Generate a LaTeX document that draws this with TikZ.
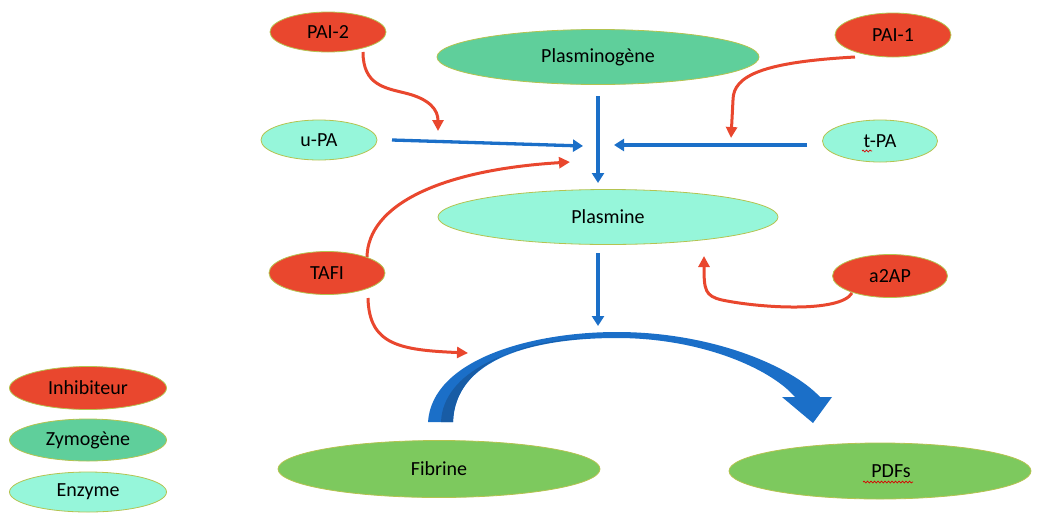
\documentclass[tikz,border=0pt]{standalone}
\usepackage{fontspec}
\setmainfont{Carlito}
\usetikzlibrary{shapes.geometric,arrows.meta,decorations.pathmorphing}
\definecolor{inhib}{RGB}{233,71,46}
\definecolor{zymo}{RGB}{95,207,155}
\definecolor{enz}{RGB}{150,246,218}
\definecolor{fib}{RGB}{125,201,94}
\definecolor{rim}{RGB}{180,195,80}
\definecolor{flow}{RGB}{27,111,200}
\definecolor{flowdark}{RGB}{24,92,165}
\tikzset{
  oval/.style={ellipse, draw=rim, line width=0.8pt, inner sep=0pt,
    font=\fontsize{20}{24}\selectfont, text=black},
  inhibnode/.style={oval, fill=inhib},
  zymonode/.style={oval, fill=zymo},
  enznode/.style={oval, fill=enz},
  fibnode/.style={oval, fill=fib},
  redarrow/.style={draw=inhib, line width=3pt, -{Triangle[length=11pt,width=11pt]}},
  bluearrow/.style={draw=flow, line width=3.3pt, -{Triangle[length=10pt,width=12pt]}},
  spellmark/.style={draw=red!85!black, line width=0.7pt, decorate,
    decoration={snake, amplitude=0.9pt, segment length=3.5pt}},
}
\begin{document}
\begin{tikzpicture}[x=1pt,y=-1pt]
\useasboundingbox (0,0) rectangle (1043,512);
% nodes
\node[inhibnode, minimum width=116, minimum height=40] (pai2) at (328,32) {PAI-2};
\node[zymonode, minimum width=322, minimum height=55] (plg) at (598,57) {Plasminogène};
\node[inhibnode, minimum width=116, minimum height=44] (pai1) at (893,35) {PAI-1};
\node[enznode, minimum width=116, minimum height=40] (upa) at (319,140) {u-PA};
\node[enznode, minimum width=115, minimum height=42] (tpa) at (880,141) {t-PA};
\node[enznode, minimum width=340, minimum height=55] (pls) at (608,217) {Plasmine};
\node[inhibnode, minimum width=116, minimum height=43] (tafi) at (327,273) {TAFI};
\node[inhibnode, minimum width=115, minimum height=43] (a2ap) at (890,276) {a2AP};
\node[fibnode, minimum width=322, minimum height=57] (fibr) at (439,469) {Fibrine};
\node[fibnode, minimum width=302, minimum height=56] (pdf) at (880,471) {\hspace*{22pt}PDFs};
% legend
\node[inhibnode, minimum width=157, minimum height=43] (lgi) at (88,388) {Inhibiteur};
\node[zymonode, minimum width=157, minimum height=42] (lgz) at (88,440) {Zymogène};
\node[enznode, minimum width=157, minimum height=40] (lge) at (88,492) {Enzyme};
% spell-check marks
\coordinate (tpam1) at (862,151);
\coordinate (tpam2) at (872,151);
\coordinate (pdfm1) at (863,482);
\coordinate (pdfm2) at (913,482);
\draw[spellmark] (tpam1) -- (tpam2);
\draw[spellmark] (pdfm1) -- (pdfm2);
% free ends
\coordinate (plgout) at (598,96);
\coordinate (conv) at (598,183);
\coordinate (plsout) at (598,253);
\coordinate (arctop) at (598,326);
\coordinate (upaout) at (392,140);
\coordinate (upain) at (583,146);
\coordinate (tpaout) at (807,145);
\coordinate (tpain) at (614,145);
\coordinate (pai2out) at (363,52);
\coordinate (pai2in) at (438,131);
\coordinate (pai1out) at (855,57);
\coordinate (pai1in) at (731,138);
\coordinate (tafiup) at (367,257);
\coordinate (tafiupin) at (570,162);
\coordinate (tafidn) at (368,298);
\coordinate (tafidnin) at (468,353);
\coordinate (a2apout) at (852,293);
\coordinate (a2apin) at (704,256);
% blue arrows
\draw[bluearrow] (plgout) -- (conv);
\draw[bluearrow] (plsout) -- (arctop);
\draw[bluearrow] (upaout) -- (upain);
\draw[bluearrow] (tpaout) -- (tpain);
% red arrows
\draw[redarrow] (pai2out) .. controls (363,85) and (385,88) .. (405,93)
  .. controls (430,99) and (438,110) .. (pai2in);
\draw[redarrow] (pai1out) .. controls (765,62) and (733,75) .. (733,100) -- (pai1in);
\draw[redarrow] (tafiup) .. controls (368,205) and (440,170) .. (tafiupin);
\draw[redarrow] (tafidn) .. controls (369,345) and (400,350) .. (tafidnin);
\draw[redarrow] (a2apout) .. controls (840,313) and (760,308) .. (722,300)
  .. controls (705,296) and (704,290) .. (a2apin);
% big curved arrow
\fill[flow] (428,422) .. controls (432,360) and (530,332) .. (617,332)
  .. controls (710,332) and (790,365) .. (820,397)
  -- (832,397) -- (813,423) -- (782,397) -- (795,397)
  .. controls (770,368) and (700,338) .. (617,338)
  .. controls (530,338) and (455,360) .. (453,422) -- cycle;
\fill[flowdark] (441,422) .. controls (443,372) and (510,343) .. (590,338)
  .. controls (525,340) and (455,362) .. (453,422) -- cycle;
\end{tikzpicture}
\end{document}
